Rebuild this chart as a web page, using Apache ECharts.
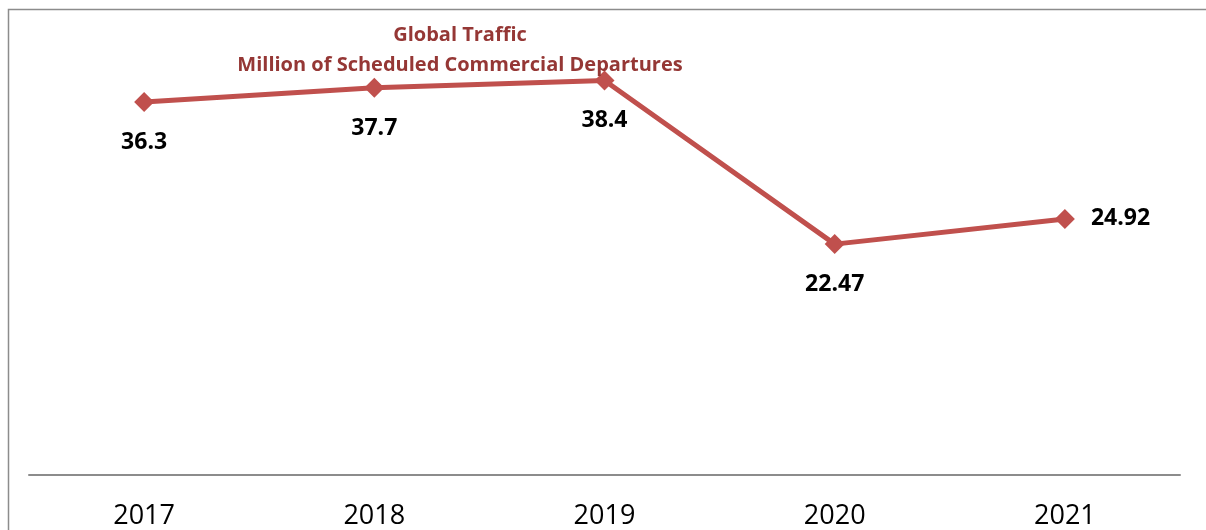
<!DOCTYPE html>
<html>
<head>
<meta charset="utf-8">
<script src="https://cdn.jsdelivr.net/npm/echarts@6/dist/echarts.min.js"></script>
<style>
html,body{margin:0;padding:0;background:#fff;}
#chart{width:1206px;height:530px;}
</style>
</head>
<body>
<div id="chart"></div>
<script>
const categories = ['2017', '2018', '2019', '2020', '2021'];
const departures = [36.3, 37.7, 38.4, 22.47, 24.92];
const labelPositions = ['bottom', 'bottom', 'bottom', 'bottom', 'right'];
const titleLines = ['Global Traffic', 'Million of Scheduled Commercial Departures'];

const chart = echarts.init(document.getElementById('chart'));
chart.setOption({
  animation: false,
  backgroundColor: '#ffffff',
  title: {
    text: titleLines.join('\n'),
    left: 455,
    top: 15,
    textAlign: 'center',
    textStyle: {
      fontFamily: 'Open Sans',
      fontWeight: 'bold',
      fontSize: 20,
      lineHeight: 30,
      color: '#953735'
    }
  },
  graphic: [{
    type: 'rect',
    silent: true,
    shape: { x: 8.5, y: 9.5, width: 1400, height: 700 },
    style: { fill: 'none', stroke: '#8c8c8c', lineWidth: 1.5 }
  }],
  grid: { left: 29, right: 26, top: 64, bottom: 55 },
  xAxis: {
    type: 'category',
    data: categories,
    boundaryGap: true,
    axisLine: { show: true, lineStyle: { color: '#8c8c8c', width: 2 } },
    axisTick: { show: false },
    axisLabel: {
      fontFamily: 'Open Sans',
      fontSize: 27,
      color: '#000',
      margin: 28
    }
  },
  yAxis: {
    type: 'value',
    min: 0,
    max: 40,
    show: false,
    splitLine: { show: false }
  },
  series: [{
    type: 'line',
    data: departures.map((v, i) => ({
      value: v,
      label: { position: labelPositions[i], distance: labelPositions[i] === 'right' ? 16 : 19 }
    })),
    symbol: 'diamond',
    symbolSize: 20,
    lineStyle: { color: '#C0504D', width: 5 },
    itemStyle: { color: '#C0504D' },
    label: {
      show: true,
      fontFamily: 'Open Sans',
      fontWeight: 'bold',
      fontSize: 23,
      color: '#000'
    }
  }]
});
</script>
</body>
</html>
